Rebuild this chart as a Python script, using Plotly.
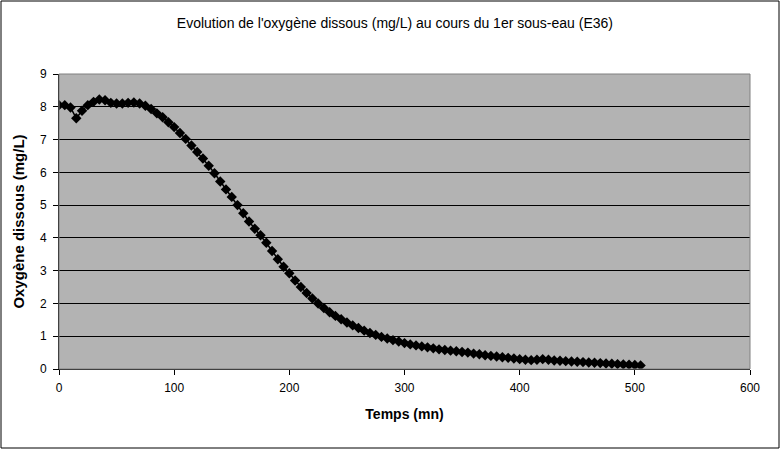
import plotly.graph_objects as go

# Time (min) and dissolved oxygen (mg/L)
temps = [0, 5, 10, 15, 20, 25, 30, 35, 40, 45, 50, 55, 60, 65, 70, 75, 80, 85, 90, 95,
         100, 105, 110, 115, 120, 125, 130, 135, 140, 145, 150, 155, 160, 165, 170, 175,
         180, 185, 190, 195, 200, 205, 210, 215, 220, 225, 230, 235, 240, 245, 250, 255,
         260, 265, 270, 275, 280, 285, 290, 295, 300, 305, 310, 315, 320, 325, 330, 335,
         340, 345, 350, 355, 360, 365, 370, 375, 380, 385, 390, 395, 400, 405, 410, 415,
         420, 425, 430, 435, 440, 445, 450, 455, 460, 465, 470, 475, 480, 485, 490, 495,
         500, 505]
oxygene = [8.05, 8.05, 7.98, 7.65, 7.88, 8.05, 8.15, 8.22, 8.20, 8.12, 8.10, 8.10, 8.12, 8.13,
           8.10, 8.03, 7.93, 7.80, 7.68, 7.53, 7.38, 7.20, 7.02, 6.82, 6.62, 6.42, 6.20, 5.97,
           5.72, 5.48, 5.25, 5.00, 4.75, 4.50, 4.28, 4.08, 3.85, 3.60, 3.35, 3.12, 2.92, 2.70,
           2.50, 2.32, 2.15, 2.00, 1.86, 1.73, 1.62, 1.52, 1.42, 1.33, 1.25, 1.17, 1.10, 1.04,
           0.98, 0.93, 0.88, 0.84, 0.79, 0.75, 0.72, 0.69, 0.66, 0.63, 0.60, 0.58, 0.56, 0.54,
           0.52, 0.50, 0.47, 0.45, 0.42, 0.40, 0.38, 0.36, 0.34, 0.32, 0.30, 0.28, 0.27, 0.28,
           0.30, 0.28, 0.26, 0.25, 0.24, 0.23, 0.22, 0.21, 0.20, 0.19, 0.18, 0.17, 0.16, 0.15,
           0.14, 0.13, 0.12, 0.11]

titre = "Evolution de l'oxygène dissous (mg/L) au cours du 1er sous-eau (E36)"
x_titre = "Temps (mn)"
y_titre = "Oxygène dissous (mg/L)"

FONT = "Arial, Liberation Sans, sans-serif"

fig = go.Figure()
fig.add_trace(go.Scatter(
    x=temps, y=oxygene, mode="lines+markers",
    line=dict(color="black", width=1.5),
    marker=dict(symbol="diamond", size=8, color="black"),
    showlegend=False,
))

W, H = 782, 452
L, R, T, B = 59, 32, 74, 83
pw, ph = W - L - R, H - T - B

fig.update_layout(
    width=W, height=H,
    margin=dict(l=L, r=R, t=T, b=B),
    paper_bgcolor="white",
    plot_bgcolor="#b3b3b3",
    font=dict(family=FONT, size=12, color="black"),
    title=dict(text=titre, x=0.505, xanchor="center", y=1 - 23 / H, yanchor="middle",
               font=dict(family=FONT, size=14, color="black")),
    xaxis=dict(range=[0, 600], dtick=100, tick0=0, showgrid=False, zeroline=False,
               showline=True, linecolor="black", linewidth=1, mirror=False,
               ticks="outside", ticklen=5, tickcolor="black", ticklabelstandoff=3,
               title=dict(text="<b>" + x_titre + "</b>", font=dict(family=FONT, size=14), standoff=14)),
    yaxis=dict(range=[0, 9], dtick=1, tick0=0, showgrid=True, gridcolor="black", gridwidth=1,
               zeroline=False, showline=True, linecolor="black", linewidth=1,
               ticks="outside", ticklen=5, tickcolor="black", ticklabelstandoff=4,
               title=dict(text="<b>" + y_titre + "</b>", font=dict(family=FONT, size=15), standoff=11)),
    shapes=[
        dict(type="rect", xref="paper", yref="paper",
             x0=(1 - L) / pw, x1=(779 - L) / pw,
             y0=(H - B - 448) / ph, y1=(H - B - 1) / ph,
             line=dict(color="black", width=1), fillcolor="rgba(0,0,0,0)", layer="below"),
        dict(type="rect", xref="paper", yref="paper", x0=0, x1=1, y0=0, y1=1,
             line=dict(color="#808080", width=1), fillcolor="rgba(0,0,0,0)", layer="above"),
    ],
)

fig.write_html("out.html", config={"displayModeBar": False},
               post_script="document.body.style.margin='0';")
